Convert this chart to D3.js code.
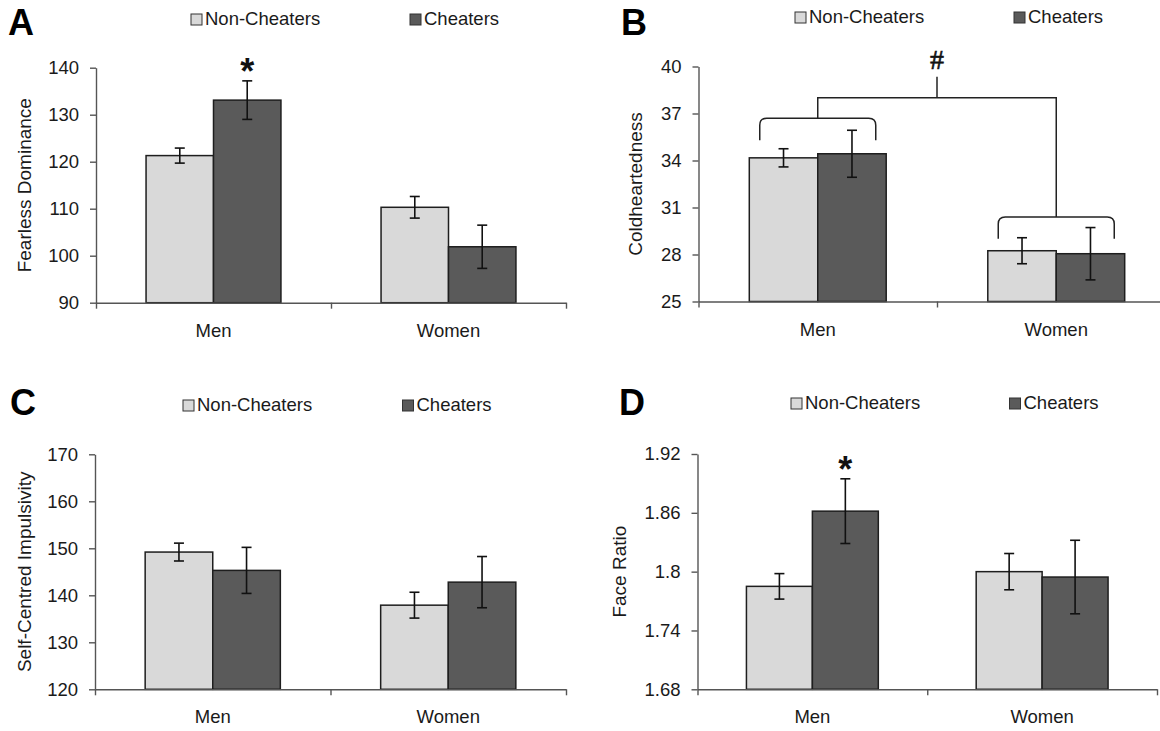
<!DOCTYPE html>
<html>
<head>
<meta charset="utf-8">
<script src="https://cdn.jsdelivr.net/npm/d3@7"></script>
<style>
  body { margin: 0; background: #fff; }
  svg { display: block; font-family: "Liberation Sans", Arial, sans-serif; }
</style>
</head>
<body>
<div id="chart"></div>
<script>
const groups = ["Men", "Women"];
const seriesNames = ["Non-Cheaters", "Cheaters"];
const seriesColors = ["#d9d9d9", "#5a5a5a"];

// A - Fearless Dominance
const fdNon = [121.3, 110.3];
const fdNonErr = [1.6, 2.3];
const fdCheat = [133.1, 101.9];
const fdCheatErr = [4.1, 4.6];
const fdTicks = [90, 100, 110, 120, 130, 140];
const fdStars = [[0, 1]];

// B - Coldheartedness
const chNon = [34.17, 28.24];
const chNonErr = [0.58, 0.83];
const chCheat = [34.43, 28.05];
const chCheatErr = [1.5, 1.67];
const chTicks = [25, 28, 31, 34, 37, 40];
const chBracketLevel = [36.7, 30.4];
const chBracketEnd = [35.3, 29.0];
const chLinkLevel = 38.0;
const chHashTop = 39.35;

// C - Self-Centred Impulsivity
const siNon = [149.2, 137.9];
const siNonErr = [1.9, 2.75];
const siCheat = [145.3, 142.8];
const siCheatErr = [4.9, 5.45];
const siTicks = [120, 130, 140, 150, 160, 170];

// D - Face Ratio
const frNon = [1.785, 1.800];
const frNonErr = [0.013, 0.0185];
const frCheat = [1.8617, 1.7945];
const frCheatErr = [0.033, 0.0375];
const frTicks = [1.68, 1.74, 1.8, 1.86, 1.92];
const frStars = [[0, 1]];

const svg = d3.select("#chart").append("svg")
    .attr("width", 1160)
    .attr("height", 731);

const textColor = "#1a1a1a";
const axisColor = "#555";

function drawPanel(p) {
    const g = svg.append("g");

    const x0 = d3.scaleBand().domain(groups)
        .range([p.left, p.right])
        .paddingInner(0.426).paddingOuter(0.213);
    const x1 = d3.scaleBand().domain(seriesNames).range([0, x0.bandwidth()]);
    const y = d3.scaleLinear().domain([p.ticks[0], p.ticks[p.ticks.length - 1]])
        .range([p.bottom, p.top]);

    const rows = groups.map((grp, i) => ({
        grp,
        vals: [
            { s: seriesNames[0], c: seriesColors[0], v: p.non[i], e: p.nonErr[i] },
            { s: seriesNames[1], c: seriesColors[1], v: p.cheat[i], e: p.cheatErr[i] }
        ]
    }));

    // bars
    const grpG = g.selectAll(".grp").data(rows).join("g")
        .attr("transform", d => `translate(${x0(d.grp)},0)`);

    grpG.selectAll("rect").data(d => d.vals).join("rect")
        .attr("x", d => x1(d.s))
        .attr("y", d => y(d.v))
        .attr("width", x1.bandwidth())
        .attr("height", d => p.bottom - y(d.v))
        .attr("fill", d => d.c)
        .attr("stroke", "#1e1e1e")
        .attr("stroke-width", 1.5);

    // error bars
    const eb = grpG.selectAll(".err").data(d => d.vals).join("g")
        .attr("transform", d => `translate(${x1(d.s) + x1.bandwidth() / 2},0)`);
    eb.append("line")
        .attr("y1", d => y(d.v - d.e)).attr("y2", d => y(d.v + d.e));
    eb.append("line").attr("x1", -5).attr("x2", 5)
        .attr("y1", d => y(d.v + d.e)).attr("y2", d => y(d.v + d.e));
    eb.append("line").attr("x1", -5).attr("x2", 5)
        .attr("y1", d => y(d.v - d.e)).attr("y2", d => y(d.v - d.e));
    eb.selectAll("line").attr("stroke", "#111").attr("stroke-width", 1.6);

    // y axis
    const yAx = g.append("g")
        .attr("transform", `translate(${p.left},0)`)
        .call(d3.axisLeft(y).tickValues(p.ticks).tickSize(6).tickSizeOuter(0)
            .tickPadding(11).tickFormat(d => String(d)));

    // x axis (ticks between categories)
    const xb = d3.scaleLinear().domain([0, groups.length]).range([p.left, p.right]);
    const xAx = g.append("g")
        .attr("transform", `translate(0,${p.bottom})`)
        .call(d3.axisBottom(xb).tickValues(d3.range(groups.length + 1))
            .tickSize(6).tickSizeOuter(0).tickFormat(""));

    [yAx, xAx].forEach(a => {
        a.select(".domain").attr("stroke", axisColor).attr("stroke-width", 1.4);
        a.selectAll(".tick line").attr("stroke", axisColor).attr("stroke-width", 1.4);
        a.selectAll("text").attr("font-size", 18.5).attr("fill", textColor)
            .attr("font-family", "Liberation Sans, Arial, sans-serif");
    });

    // category labels
    const catAx = g.append("g")
        .attr("transform", `translate(0,${p.bottom})`)
        .call(d3.axisBottom(x0).tickSize(0).tickPadding(21));
    catAx.select(".domain").remove();
    catAx.selectAll("text").attr("font-size", 18.5).attr("fill", textColor)
        .attr("font-family", "Liberation Sans, Arial, sans-serif");

    // axis title
    g.append("text")
        .attr("transform", `translate(${p.titleX},${(p.top + p.bottom) / 2}) rotate(-90)`)
        .attr("text-anchor", "middle")
        .attr("dominant-baseline", "central")
        .attr("font-size", 19)
        .attr("fill", textColor)
        .text(p.title);

    // panel letter
    g.append("text")
        .attr("x", p.letterX).attr("y", p.letterY)
        .attr("font-size", 36).attr("font-weight", "bold")
        .attr("fill", "#000")
        .text(p.letter);

    // legend
    const leg = g.selectAll(".leg").data(seriesNames).join("g")
        .attr("transform", (d, i) => `translate(${p.legX[i]},${p.legY})`);
    leg.append("rect")
        .attr("width", 11).attr("height", 11)
        .attr("fill", (d, i) => seriesColors[i])
        .attr("stroke", "#333").attr("stroke-width", 1);
    leg.append("text")
        .attr("x", 14).attr("y", 11)
        .attr("font-size", 18.5).attr("fill", textColor)
        .text(d => d);

    // significance stars
    (p.stars || []).forEach(([gi, si]) => {
        const v = si === 0 ? p.non[gi] : p.cheat[gi];
        const e = si === 0 ? p.nonErr[gi] : p.cheatErr[gi];
        g.append("text")
            .attr("x", x0(groups[gi]) + x1(seriesNames[si]) + x1.bandwidth() / 2)
            .attr("y", y(v + e) + 3)
            .attr("text-anchor", "middle")
            .attr("font-size", 36).attr("font-weight", "bold")
            .attr("fill", "#111")
            .text("*");
    });

    return { x0, y };
}

drawPanel({
    letter: "A", letterX: 8, letterY: 35,
    title: "Fearless Dominance", titleX: 24,
    left: 96, right: 566, top: 67.7, bottom: 302.7,
    ticks: fdTicks, non: fdNon, nonErr: fdNonErr, cheat: fdCheat, cheatErr: fdCheatErr,
    stars: fdStars, legX: [191, 410], legY: 14
});

const pb = drawPanel({
    letter: "B", letterX: 621, letterY: 35,
    title: "Coldheartedness", titleX: 635,
    left: 698.5, right: 1175.5, top: 66.5, bottom: 301.5,
    ticks: chTicks, non: chNon, nonErr: chNonErr, cheat: chCheat, cheatErr: chCheatErr,
    legX: [795, 1014], legY: 12
});

drawPanel({
    letter: "C", letterX: 10, letterY: 415,
    title: "Self-Centred Impulsivity", titleX: 24,
    left: 95, right: 566, top: 454.3, bottom: 689.3,
    ticks: siTicks, non: siNon, nonErr: siNonErr, cheat: siCheat, cheatErr: siCheatErr,
    legX: [183, 402.5], legY: 400
});

drawPanel({
    letter: "D", letterX: 619, letterY: 415,
    title: "Face Ratio", titleX: 619,
    left: 697.5, right: 1157, top: 454, bottom: 689.3,
    ticks: frTicks, non: frNon, nonErr: frNonErr, cheat: frCheat, cheatErr: frCheatErr,
    stars: frStars, legX: [791, 1009.5], legY: 398
});

// brackets and interaction marker in panel B
const bx = pb.x0, by = pb.y;
const half = 58, r = 7;
const centers = groups.map(gr => bx(gr) + bx.bandwidth() / 2);
const ann = svg.append("g").attr("fill", "none").attr("stroke", "#222").attr("stroke-width", 1.5);

groups.forEach((gr, i) => {
    const xa = centers[i] - half, xz = centers[i] + half;
    const yh = by(chBracketLevel[i]), ye = by(chBracketEnd[i]);
    const path = d3.path();
    path.moveTo(xa, ye);
    path.lineTo(xa, yh + r);
    path.quadraticCurveTo(xa, yh, xa + r, yh);
    path.lineTo(xz - r, yh);
    path.quadraticCurveTo(xz, yh, xz, yh + r);
    path.lineTo(xz, ye);
    ann.append("path").attr("d", path.toString());
});

const yLink = by(chLinkLevel);
ann.append("path").attr("d", d3.line()([
    [centers[0], by(chBracketLevel[0])],
    [centers[0], yLink],
    [centers[1], yLink],
    [centers[1], by(chBracketLevel[1])]
]));
const mid = (centers[0] + centers[1]) / 2;
ann.append("line")
    .attr("x1", mid).attr("x2", mid)
    .attr("y1", yLink).attr("y2", by(chHashTop));

svg.append("text")
    .attr("x", mid).attr("y", by(chHashTop) - 8)
    .attr("text-anchor", "middle")
    .attr("font-family", "Liberation Serif, serif")
    .attr("font-size", 28)
    .attr("fill", "#111")
    .attr("stroke", "#111").attr("stroke-width", 0.6)
    .text("#");
</script>
</body>
</html>
